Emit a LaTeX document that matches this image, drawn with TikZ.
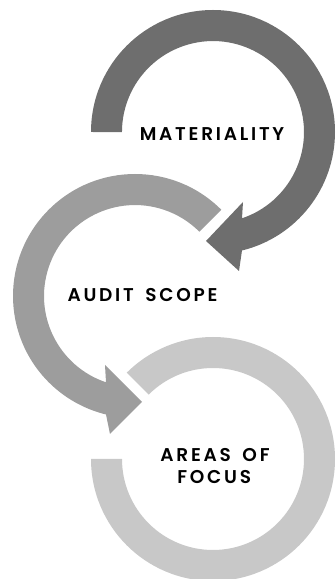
\documentclass[tikz,border=0pt]{standalone}
\usepackage{fontspec}
\newfontfamily\lblfont[LetterSpace=15,WordSpace=1.6,BoldFont={Poppins SemiBold}]{Poppins}
\begin{document}
\begin{tikzpicture}[x=1pt,y=1pt,
  lbl/.style={font=\lblfont\bfseries\fontsize{18.5}{22}\selectfont, text=black, inner sep=0pt, anchor=base}]
\definecolor{topc}{HTML}{6E6E6E}
\definecolor{midc}{HTML}{9D9D9D}
\definecolor{botc}{HTML}{C8C8C8}
\useasboundingbox (0,0) rectangle (336,579);
% top arrow (centre 213,447)
\fill[topc] (91,447) arc[start angle=180, end angle=-76.25, radius=122]
  -- (239,308) -- (206,338) -- (243,377) -- (242,360.7)
  arc[start angle=-71.4, end angle=180, radius=91] -- cycle;
% middle arrow (centre 135,283)
\fill[midc] (221.27,369.27) arc[start angle=45, end angle=256.25, radius=122]
  -- (110,145) -- (142,177) -- (105,214) -- (106,196.7)
  arc[start angle=251.4, end angle=45, radius=91] -- cycle;
% bottom ring (centre 213,120)
\fill[botc] (91,120) arc[start angle=180, end angle=495, radius=122]
  -- (148.65,184.35) arc[start angle=495, end angle=180, radius=91] -- cycle;
\node[lbl] (mat) at (212,438.3) {MATERIALITY};
\node[lbl] (aud) at (142.5,277.3) {AUDIT SCOPE};
\node[lbl] (are) at (215,117.3) {AREAS OF};
\node[lbl] (foc) at (214.2,95) {FOCUS};
\end{tikzpicture}
\end{document}
